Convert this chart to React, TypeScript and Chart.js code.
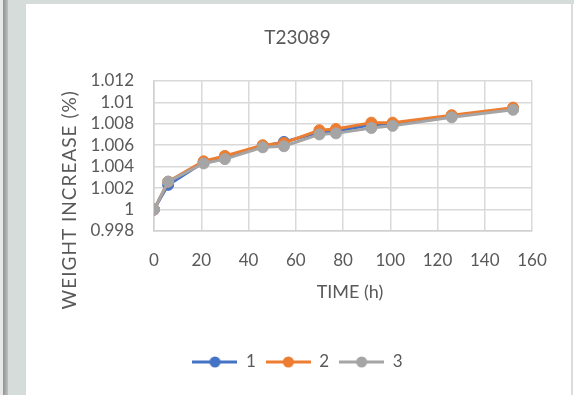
import { useEffect, useRef } from "react";
import { Chart, registerables } from "chart.js";

Chart.register(...registerables);

// ---- data ----
const chartTitle = "T23089";
const xAxisTitle = "TIME (h)";
const yAxisTitle = "WEIGHT INCREASE (%)";

const timeHours = [0, 6, 21, 30, 46, 55, 70, 77, 92, 101, 126, 152];
const series1 = [1.0, 1.0023, 1.0044, 1.0049, 1.0059, 1.0063, 1.0072, 1.0073, 1.0079, 1.008, 1.0087, 1.0094];
const series2 = [1.0, 1.0026, 1.0045, 1.005, 1.006, 1.0062, 1.0074, 1.0075, 1.0081, 1.0081, 1.0088, 1.0095];
const series3 = [1.0, 1.0026, 1.0043, 1.0047, 1.0058, 1.0059, 1.007, 1.0071, 1.0076, 1.0078, 1.0086, 1.0093];
const seriesNames = ["1", "2", "3"];
const seriesColors = ["#4472C4", "#ED7D31", "#A5A5A5"];

const xTickValues = [0, 20, 40, 60, 80, 100, 120, 140, 160];
const yTickValues = [0.998, 1, 1.002, 1.004, 1.006, 1.008, 1.01, 1.012];

// ---- styling ----
const FONT = "Lato, 'Open Sans', sans-serif";
const TEXT = "#595959";
const GRID = "#d9d9d9";
const CANVAS_W = 545;
const CANVAS_H = 391;

function makeSwatch(color: string): HTMLCanvasElement {
  const c = document.createElement("canvas");
  c.width = 45;
  c.height = 14;
  const g = c.getContext("2d")!;
  g.strokeStyle = color;
  g.lineWidth = 3;
  g.beginPath();
  g.moveTo(0, 7);
  g.lineTo(45, 7);
  g.stroke();
  g.fillStyle = color;
  g.beginPath();
  g.arc(22.5, 7, 5.5, 0, Math.PI * 2);
  g.fill();
  return c;
}

const axisTitlesPlugin = {
  id: "axisTitles",
  afterDraw(chart: any) {
    const { ctx, chartArea } = chart;
    ctx.save();
    ctx.fillStyle = TEXT;
    ctx.textAlign = "center";
    ctx.textBaseline = "alphabetic";
    ctx.font = `18px ${FONT}`;
    const midX = (chartArea.left + chartArea.right) / 2;
    ctx.fillText(xAxisTitle, midX + 7, chartArea.bottom + 67);
    ctx.translate(chartArea.left - 78, chartArea.top + 119);
    ctx.rotate(-Math.PI / 2);
    ctx.font = `19px ${FONT}`;
    (ctx as any).letterSpacing = "1px";
    ctx.fillText(yAxisTitle, 0, 0);
    ctx.restore();
  },
};

export default function App() {
  const canvasRef = useRef<HTMLCanvasElement | null>(null);

  useEffect(() => {
    const canvas = canvasRef.current;
    if (!canvas) return;
    const seriesValues = [series1, series2, series3];
    const swatches = seriesColors.map(makeSwatch);

    const chart = new Chart(canvas, {
      type: "line",
      data: {
        datasets: seriesValues.map((vals, i) => ({
          label: seriesNames[i],
          data: timeHours.map((t, j) => ({ x: t, y: vals[j] })),
          borderColor: seriesColors[i],
          backgroundColor: seriesColors[i],
          pointBackgroundColor: seriesColors[i],
          pointBorderColor: seriesColors[i],
          borderWidth: 3,
          pointRadius: 5.5,
          pointBorderWidth: 1,
          tension: 0,
          order: 3 - i,
        })),
      },
      options: {
        responsive: false,
        animation: false,
        devicePixelRatio: 1,
        layout: { padding: { left: 37, right: 39, top: 0, bottom: 14.5 } },
        plugins: {
          tooltip: { enabled: false },
          title: {
            display: true,
            text: chartTitle,
            color: TEXT,
            font: { family: FONT, size: 19, weight: "normal" },
            padding: { top: 22, bottom: 32 },
          },
          legend: {
            position: "bottom",
            labels: {
              usePointStyle: true,
              pointStyleWidth: 45,
              padding: 10,
              color: TEXT,
              font: { family: FONT, size: 17 },
              generateLabels: () =>
                seriesNames.map((name, i) => ({
                  text: name,
                  datasetIndex: i,
                  pointStyle: swatches[i],
                  fillStyle: seriesColors[i],
                  strokeStyle: seriesColors[i],
                  lineWidth: 0,
                  hidden: false,
                  fontColor: TEXT,
                })),
            },
          },
        },
        scales: {
          x: {
            type: "linear",
            min: 0,
            max: 160,
            afterBuildTicks: (scale: any) => {
              scale.ticks = xTickValues.map((v) => ({ value: v }));
            },
            afterFit: (scale: any) => {
              scale.height = 112.5;
            },
            grid: { color: GRID, lineWidth: 1.5, drawTicks: false },
            border: { color: "#d0d0d0", width: 1.5 },
            ticks: {
              color: TEXT,
              font: { family: FONT, size: 17 },
              padding: 19,
              maxRotation: 0,
              autoSkip: false,
              callback: (v: any) => String(v),
            },
          },
          y: {
            type: "linear",
            min: 0.998,
            max: 1.012,
            afterBuildTicks: (scale: any) => {
              scale.ticks = yTickValues.map((v) => ({ value: v }));
            },
            afterFit: (scale: any) => {
              scale.width = 91;
            },
            grid: { color: GRID, lineWidth: 1.5, drawTicks: false },
            border: { color: "#d0d0d0", width: 1.5 },
            ticks: {
              color: TEXT,
              font: { family: FONT, size: 17 },
              padding: 20,
              autoSkip: false,
              callback: (v: any) => String(Number(Number(v).toFixed(3))),
            },
          },
        },
      },
      plugins: [axisTitlesPlugin],
    } as any);

    return () => chart.destroy();
  }, []);

  return (
    <div
      style={{
        position: "fixed",
        left: 0,
        top: 0,
        width: 574,
        height: 395,
        background: "#d6dcda",
        overflow: "hidden",
      }}
    >
      <div style={{ position: "absolute", left: 0, top: 0, width: 3, height: 395, background: "#e8e8e8" }} />
      <div
        style={{
          position: "absolute",
          left: 3,
          top: 0,
          width: 5,
          height: 395,
          background: "linear-gradient(to right, #8f9392, #bcc0bf)",
        }}
      />
      <div
        style={{
          position: "absolute",
          left: 26,
          top: 4,
          width: CANVAS_W,
          height: CANVAS_H,
          background: "#ffffff",
        }}
      >
        <canvas ref={canvasRef} width={CANVAS_W} height={CANVAS_H} style={{ display: "block" }} />
      </div>
      <div style={{ position: "absolute", left: 571, top: 4, width: 2, height: 391, background: "#dcdcdc" }} />
      <div style={{ position: "absolute", left: 573, top: 4, width: 1, height: 391, background: "#ffffff" }} />
    </div>
  );
}
